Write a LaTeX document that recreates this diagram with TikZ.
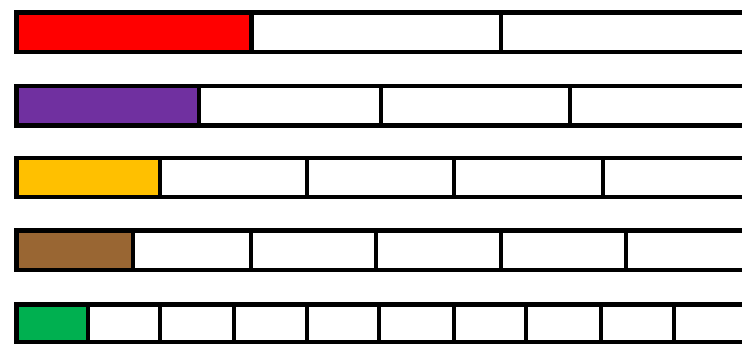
\documentclass[tikz,border=0pt]{standalone}
\usepackage{tikz}
\definecolor{stripred}{HTML}{FF0000}
\definecolor{strippurple}{HTML}{7030A0}
\definecolor{stripyellow}{HTML}{FFC000}
\definecolor{stripbrown}{HTML}{996633}
\definecolor{stripgreen}{HTML}{00B050}
\begin{document}
\begin{tikzpicture}[
  x=1pt, y=-1pt,
  cell/.style={draw=black, line width=4.5pt, fill=white},
  part/.style={cell, fill=#1}
]
\useasboundingbox (0,0) rectangle (742,343);
\clip (0,0) rectangle (742,343);

% thirds
\foreach \a/\b in {251.5/501, 501/790}
  \draw[cell] (\a,12.5) rectangle (\b,52);
\draw[part=stripred] (16.5,12.5) rectangle (251.5,52);

% quarters
\foreach \a/\b in {199/381, 381/570, 570/760}
  \draw[cell] (\a,86) rectangle (\b,125.5);
\draw[part=strippurple] (16.5,86) rectangle (199,125.5);

% fifths
\foreach \a/\b in {160/307, 307/454, 454/603, 603/760}
  \draw[cell] (\a,158) rectangle (\b,197);
\draw[part=stripyellow] (16.5,158) rectangle (160,197);

% sixths
\foreach \a/\b in {133/251, 251/376, 376/501, 501/626, 626/760}
  \draw[cell] (\a,230.5) rectangle (\b,270);
\draw[part=stripbrown] (16.5,230.5) rectangle (133,270);

% tenths
\foreach \a/\b in {88/160, 160/234, 234/307, 307/379, 379/454, 454/526, 526/601, 601/674, 674/760}
  \draw[cell] (\a,304.5) rectangle (\b,342);
\draw[part=stripgreen] (16.5,304.5) rectangle (88,342);
\end{tikzpicture}
\end{document}
